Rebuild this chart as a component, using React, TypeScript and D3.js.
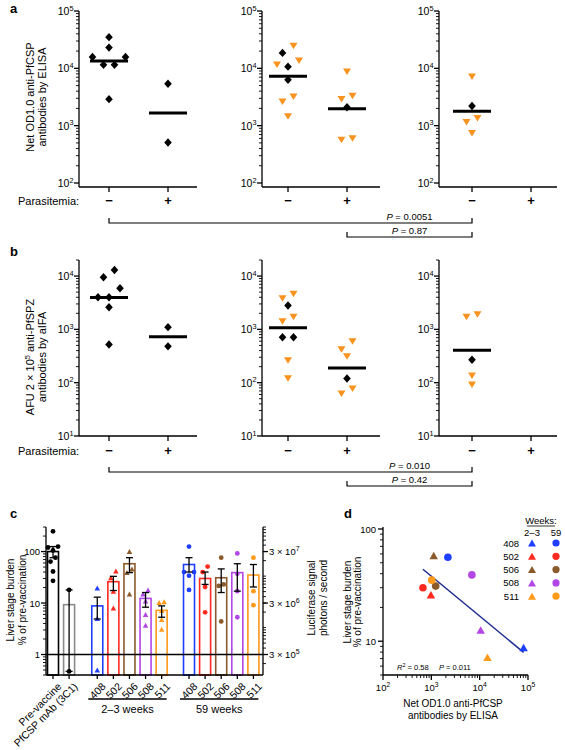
import React from "react";
import * as d3 from "d3";

const FONT = "'Liberation Sans', Arial, Helvetica, sans-serif";
const ORANGE = "#f7931e";
const COLORS: Record<string, string> = {
  "408": "#1f3fff",
  "502": "#ff2a1f",
  "506": "#8b5a2b",
  "508": "#b347e6",
  "511": "#ff9a1a",
};

// ---------------- Panel a : Net OD1.0 anti-PfCSP antibodies by ELISA ----------------
const parasitemia = ["−", "+"];
const a1MinusValues = [35000, 23000, 15800, 15800, 11500, 11500, 2900];
const a1MinusShapes = ["D", "D", "D", "D", "D", "D", "D"];
const a1PlusValues = [5400, 510];
const a1PlusShapes = ["D", "D"];
const a2MinusValues = [24500, 18600, 13500, 11500, 10700, 6300, 3200, 2600, 1450];
const a2MinusShapes = ["T", "D", "T", "T", "D", "D", "T", "T", "T"];
const a2PlusValues = [8700, 3300, 2900, 2100, 600, 560];
const a2PlusShapes = ["T", "T", "T", "D", "T", "T"];
const a3MinusValues = [7100, 2200, 1350, 1150, 740];
const a3MinusShapes = ["T", "D", "T", "T", "T"];
const a3PlusValues: number[] = [];
const a3PlusShapes: string[] = [];
const aPValues = ["0.0051", "0.87"];

// ---------------- Panel b : AFU anti-PfSPZ antibodies by aIFA ----------------
const b1MinusValues = [13000, 9500, 5900, 4000, 4000, 2600, 520];
const b1MinusShapes = ["D", "D", "D", "D", "D", "D", "D"];
const b1PlusValues = [1100, 480];
const b1PlusShapes = ["D", "D"];
const b2MinusValues = [4600, 3800, 2800, 1700, 1400, 710, 710, 260, 120];
const b2MinusShapes = ["T", "T", "D", "T", "T", "D", "D", "T", "T"];
const b2PlusValues = [590, 420, 310, 120, 77, 62];
const b2PlusShapes = ["T", "T", "T", "D", "T", "T"];
const b3MinusValues = [1900, 1700, 270, 135, 91];
const b3MinusShapes = ["T", "T", "D", "T", "T"];
const b3PlusValues: number[] = [];
const b3PlusShapes: string[] = [];
const bPValues = ["0.010", "0.42"];

// ---------------- Panel c : liver stage burden ----------------
const cLabels = ["Pre-vaccine", "PfCSP mAb (3C1)", "408", "502", "506", "508", "511", "408", "502", "506", "508", "511"];
const cGroups = ["pre", "mab", "early", "early", "early", "early", "early", "late", "late", "late", "late", "late"];
const cMeans = [100, 9.3, 8.8, 26, 58, 12.3, 7.2, 56, 30, 31, 39, 35];
const cErrLow = [76, 0.47, 4.9, 17.5, 39, 8.3, 5.3, 40, 23, 16, 17, 20.5];
const cErrHigh = [125, 18, 13, 33, 76, 16, 8.8, 76, 40, 46, 58, 56];
const cPoints = [
  [247, 125, 120, 105, 76, 64, 41, 27],
  [18, 0.47],
  [19.6, 5, 0.5],
  [42, 31, 17, 8],
  [100, 46, 39, 15],
  [18, 15, 11, 6, 3.7],
  [10.6, 10.2, 7.2, 4.8, 3.1],
  [125, 40, 40, 34, 18],
  [51, 40, 20.5, 6.6],
  [76, 23, 21.5, 4.4],
  [92, 37, 17, 5.3],
  [76, 17, 9.1],
];
const cGroupTitles = ["2–3 weeks", "59 weeks"];
const cLeftTicks = [1, 10, 100];
const cRightTicks = [3e5, 3e6, 3e7];
const cPhotonFactor = 3e5;

// ---------------- Panel d : correlation ----------------
const dMonkeys = ["408", "502", "506", "508", "511"];
const dEarlyElisa = [81000, 980, 1120, 10500, 14500];
const dEarlyBurden = [8.8, 26, 58, 12.6, 7.2];
const dLateElisa = [2200, 670, 1230, 6900, 1020];
const dLateBurden = [56, 30, 31, 39, 35];
const dR2 = "0.58";
const dP = "0.011";

// ---------------- helpers ----------------
function logTicks(min: number, max: number) {
  const major: number[] = [];
  const minor: number[] = [];
  for (let e = Math.floor(Math.log10(min)) - 1; e <= Math.ceil(Math.log10(max)); e++) {
    for (let m = 1; m <= 9; m++) {
      const v = m * Math.pow(10, e);
      if (v >= min * 0.999 && v <= max * 1.001) (m === 1 ? major : minor).push(v);
    }
  }
  return { major, minor };
}

function swarm(ys: number[], spacing: number, thresh: number): number[] {
  const idx = ys.map((_, i) => i).sort((a, b) => ys[a] - ys[b]);
  const rows: number[][] = [];
  let cur: number[] = [];
  let start = -Infinity;
  for (const i of idx) {
    if (cur.length && ys[i] - start < thresh) cur.push(i);
    else {
      if (cur.length) rows.push(cur);
      cur = [i];
      start = ys[i];
    }
  }
  if (cur.length) rows.push(cur);
  const off = new Array(ys.length).fill(0);
  for (const row of rows) {
    const n = row.length;
    const ordered = [...row].sort((a, b) => ys[b] - ys[a]);
    const slots: number[] = [];
    if (n % 2 === 1) {
      slots.push(0);
      for (let k = 1; slots.length < n; k++) {
        slots.push(-k);
        if (slots.length < n) slots.push(k);
      }
    } else {
      for (let k = 0.5; slots.length < n; k++) {
        slots.push(-k);
        if (slots.length < n) slots.push(k);
      }
    }
    ordered.forEach((i, j) => (off[i] = slots[j] * spacing));
  }
  return off;
}

const diamond = (cx: number, cy: number, w: number, h: number) =>
  `M${cx},${cy - h}L${cx + w},${cy}L${cx},${cy + h}L${cx - w},${cy}Z`;
const triDown = (cx: number, cy: number, w: number, h: number) =>
  `M${cx - w / 2},${cy - h / 2}L${cx + w / 2},${cy - h / 2}L${cx},${cy + h / 2}Z`;
const triUp = (cx: number, cy: number, w: number, h: number) =>
  `M${cx - w / 2},${cy + h / 2}L${cx + w / 2},${cy + h / 2}L${cx},${cy - h / 2}Z`;

function Pow10({ x, y, exp, anchor, size }: any) {
  return (
    <text x={x} y={y} textAnchor={anchor} fontSize={size}>
      10
      <tspan dy={-size * 0.42} fontSize={size * 0.7}>
        {exp}
      </tspan>
    </text>
  );
}

// ---------------- scatter panel (a / b) ----------------
type Group = { values: number[]; shapes: string[] };
type Sub = { axisX: number; tick0: number; minus: Group; plus: Group };

function ScatterPanel({ subs, domain, yRange, xAxisY, yLabel, brackets, pvals, parasY }: any) {
  const y = d3.scaleLog().domain(domain).range(yRange);
  const { major, minor } = logTicks(domain[0], domain[1]);
  const topPx = yRange[1];
  const xs = subs.map((s: Sub) =>
    d3.scalePoint<string>().domain(parasitemia).range([s.axisX + s.tick0, s.axisX + s.tick0 + 59])
  );
  const els: any[] = [];
  subs.forEach((s: Sub, si: number) => {
    const x = xs[si];
    els.push(
      <g key={`ax${si}`} stroke="#000" strokeWidth={1.3} fill="none">
        <line x1={s.axisX} x2={s.axisX} y1={topPx} y2={xAxisY} />
        <line x1={s.axisX} x2={s.axisX + 118} y1={xAxisY} y2={xAxisY} />
        {major.map((v) => (
          <line key={`M${v}`} x1={s.axisX - 5} x2={s.axisX} y1={y(v)} y2={y(v)} />
        ))}
        {minor.map((v) => (
          <line key={`m${v}`} x1={s.axisX - 3} x2={s.axisX} y1={y(v)} y2={y(v)} strokeWidth={0.9} />
        ))}
        {parasitemia.map((p) => (
          <line key={`t${p}`} x1={x(p)} x2={x(p)} y1={xAxisY} y2={xAxisY + 5} />
        ))}
      </g>
    );
    major.forEach((v) =>
      els.push(
        <Pow10 key={`lab${si}-${v}`} x={s.axisX - 5.5} y={y(v) + 4} exp={Math.round(Math.log10(v))} anchor="end" size={10.5} />
      )
    );
    parasitemia.forEach((p) =>
      els.push(
        <text key={`pl${si}${p}`} x={x(p)} y={parasY} textAnchor="middle" fontSize={13} fontWeight="bold">
          {p}
        </text>
      )
    );
    [s.minus, s.plus].forEach((g, gi) => {
      if (!g.values.length) return;
      const cx = x(parasitemia[gi])!;
      const ys = g.values.map((v) => y(v));
      const offs = swarm(ys, 11, 9);
      const gm = Math.pow(10, d3.mean(g.values, (v) => Math.log10(v))!);
      g.values.forEach((v, i) => {
        const px = cx + offs[i];
        const py = ys[i];
        els.push(
          g.shapes[i] === "D" ? (
            <path key={`p${si}-${gi}-${i}`} d={diamond(px, py, 3.8, 4.2)} fill="#000" />
          ) : (
            <path key={`p${si}-${gi}-${i}`} d={triDown(px, py, 8, 6.5)} fill={ORANGE} />
          )
        );
      });
      els.push(
        <line key={`gm${si}-${gi}`} x1={cx - 19} x2={cx + 19} y1={y(gm)} y2={y(gm)} stroke="#000" strokeWidth={3} />
      );
    });
  });
  // brackets
  const b0 = xs[0]("−")!, b2 = xs[2]("−")!, b1 = xs[1]("+")!;
  const pCenter = (b1 + b2) / 2;
  els.push(
    <g key="br" stroke="#000" strokeWidth={1.2} fill="none">
      <path d={`M${b0},${brackets[0] - 5}V${brackets[0]}H${b2}V${brackets[0] - 5}`} />
      <path d={`M${b1},${brackets[1] - 5}V${brackets[1]}H${b2}V${brackets[1] - 5}`} />
    </g>
  );
  pvals.forEach((pv: string, i: number) =>
    els.push(
      <text key={`pv${i}`} x={pCenter} y={brackets[i] - 3} textAnchor="middle" fontSize={9.5}>
        <tspan fontStyle="italic">P</tspan> = {pv}
      </text>
    )
  );
  els.push(
    <text key="parlab" x={18} y={parasY} fontSize={11}>
      Parasitemia:
    </text>
  );
  els.push(
    <g key="ylab" fontSize={11} textAnchor="middle">
      <text transform={`translate(33.5,${yLabel.cy}) rotate(-90)`}>{yLabel.l1}</text>
      <text transform={`translate(45.5,${yLabel.cy}) rotate(-90)`}>{yLabel.l2}</text>
    </g>
  );
  return <g>{els}</g>;
}

// ---------------- panel c ----------------
function PanelC() {
  const left = 46, right = 263, bottomY = 675, topY = 527;
  const y = d3.scaleLog().domain([0.4, 300]).range([bottomY, topY]);
  const yr = d3.scaleLog().domain([0.4 * cPhotonFactor, 300 * cPhotonFactor]).range([bottomY, topY]);
  const slot = cLabels.map((_, i) => i + (i >= 2 ? 0.75 : 0) + (i >= 7 ? 0.7 : 0));
  const x = d3.scaleLinear().domain([0, slot[slot.length - 1]]).range([53, 253.4]);
  const lt = logTicks(0.4, 300);
  const rt = logTicks(0.4 * cPhotonFactor, 300 * cPhotonFactor);
  const bw = 11;
  const colorOf = (i: number) =>
    cGroups[i] === "pre" ? "#000" : cGroups[i] === "mab" ? "#8a8a8a" : COLORS[cLabels[i]];
  const early = cLabels.map((_, i) => i).filter((i) => cGroups[i] === "early");
  const late = cLabels.map((_, i) => i).filter((i) => cGroups[i] === "late");
  return (
    <g>
      {cLabels.map((l, i) => {
        const cx = x(slot[i]);
        return (
          <rect
            key={`bar${i}`}
            x={cx - bw / 2}
            y={y(cMeans[i])}
            width={bw}
            height={bottomY - y(cMeans[i])}
            fill="#fff"
            stroke={colorOf(i)}
            strokeWidth={1.6}
          />
        );
      })}
      {cPoints.map((pts, i) => {
        const cx = x(slot[i]);
        const ys = pts.map((v) => y(v));
        const offs = swarm(ys, 5, 8);
        const col = cGroups[i] === "pre" || cGroups[i] === "mab" ? "#000" : colorOf(i);
        return pts.map((v, j) =>
          cGroups[i] === "early" ? (
            <path key={`cp${i}-${j}`} d={triUp(cx + offs[j], ys[j], 5.5, 5)} fill={col} />
          ) : (
            <circle key={`cp${i}-${j}`} cx={cx + offs[j]} cy={ys[j]} r={2.4} fill={col} />
          )
        );
      })}
      {cLabels.map((l, i) => {
        const cx = x(slot[i]);
        return (
          <g key={`eb${i}`} stroke="#000" strokeWidth={1.3}>
            <line x1={cx} x2={cx} y1={y(cErrLow[i])} y2={y(cErrHigh[i])} />
            <line x1={cx - 3.5} x2={cx + 3.5} y1={y(cErrHigh[i])} y2={y(cErrHigh[i])} />
            <line x1={cx - 3.5} x2={cx + 3.5} y1={y(cErrLow[i])} y2={y(cErrLow[i])} />
          </g>
        );
      })}
      <g stroke="#000" strokeWidth={1.3} fill="none">
        <line x1={left} x2={left} y1={topY} y2={bottomY} />
        <line x1={right} x2={right} y1={topY} y2={bottomY} />
        <line x1={left} x2={right} y1={bottomY} y2={bottomY} />
        <line x1={left} x2={right} y1={y(1)} y2={y(1)} strokeWidth={1.6} />
        {lt.major.map((v) => (
          <line key={`lM${v}`} x1={left - 5} x2={left} y1={y(v)} y2={y(v)} />
        ))}
        {lt.minor.map((v) => (
          <line key={`lm${v}`} x1={left - 3} x2={left} y1={y(v)} y2={y(v)} strokeWidth={0.9} />
        ))}
        {rt.major.concat(rt.minor).map((v) => (
          <line key={`rm${v}`} x1={right} x2={right + 3} y1={yr(v)} y2={yr(v)} strokeWidth={0.9} />
        ))}
        {cRightTicks.map((v) => (
          <line key={`rM${v}`} x1={right} x2={right + 5} y1={yr(v)} y2={yr(v)} />
        ))}
        {cLabels.map((l, i) => (
          <line key={`xt${i}`} x1={x(slot[i])} x2={x(slot[i])} y1={bottomY} y2={bottomY + 4} />
        ))}
        <line x1={x(slot[early[0]]) - 9} x2={x(slot[early[early.length - 1]]) + 5} y1={699} y2={699} />
        <line x1={x(slot[late[0]]) - 9} x2={x(slot[late[late.length - 1]]) + 5} y1={699} y2={699} />
      </g>
      {cLeftTicks.map((v) => (
        <text key={`ltl${v}`} x={left - 6} y={y(v) + 3.5} textAnchor="end" fontSize={9.5}>
          {v}
        </text>
      ))}
      {cRightTicks.map((v) => {
        const e = Math.floor(Math.log10(v));
        const m = Math.round(v / Math.pow(10, e));
        return (
          <text key={`rtl${v}`} x={right + 6} y={yr(v) + 3.5} fontSize={9.5}>
            {m} × 10
            <tspan dy={-4} fontSize={7}>
              {e}
            </tspan>
          </text>
        );
      })}
      {cLabels.map((l, i) => (
        <text
          key={`xl${i}`}
          transform={`translate(${x(slot[i]) + 4},${682}) rotate(-45)`}
          textAnchor="end"
          dy="0.7em"
          fontSize={10.5}
        >
          {l}
        </text>
      ))}
      <text x={(x(slot[early[0]]) + x(slot[early[early.length - 1]])) / 2 - 2} y={713} textAnchor="middle" fontSize={11}>
        {cGroupTitles[0]}
      </text>
      <text x={(x(slot[late[0]]) + x(slot[late[late.length - 1]])) / 2 - 2} y={713} textAnchor="middle" fontSize={11}>
        {cGroupTitles[1]}
      </text>
      <g fontSize={10} textAnchor="middle">
        <text transform={`translate(14,600) rotate(-90)`}>Liver stage burden</text>
        <text transform={`translate(26,600) rotate(-90)`}>% of pre-vaccination</text>
        <text transform={`translate(315,598) rotate(-90)`}>Luciferase signal</text>
        <text transform={`translate(327,598) rotate(-90)`}>photons / second</text>
      </g>
    </g>
  );
}

// ---------------- panel d ----------------
function PanelD() {
  const left = 383, right = 528, bottomY = 675, topY = 529;
  const x = d3.scaleLog().domain([100, 1e5]).range([left, right]);
  const y = d3.scaleLog().domain([5, 100]).range([bottomY, topY]);
  const xt = logTicks(100, 1e5);
  const yt = logTicks(5, 100);
  const allX = dEarlyElisa.concat(dLateElisa);
  const allY = dEarlyBurden.concat(dLateBurden);
  const lx = allX.map(Math.log10), ly = allY.map(Math.log10);
  const mx = d3.mean(lx)!, my = d3.mean(ly)!;
  const sxy = d3.sum(lx, (v, i) => (v - mx) * (ly[i] - my));
  const sxx = d3.sum(lx, (v) => (v - mx) * (v - mx));
  const slope = sxy / sxx;
  const fit = (v: number) => Math.pow(10, my + slope * (Math.log10(v) - mx));
  const [xmin, xmax] = d3.extent(allX) as [number, number];
  const rowY = (i: number) => 543 + i * 13.3;
  return (
    <g>
      <g stroke="#000" strokeWidth={1.3} fill="none">
        <line x1={left} x2={left} y1={topY - 2} y2={bottomY} />
        <line x1={left} x2={right} y1={bottomY} y2={bottomY} />
        {yt.major.map((v) => (
          <line key={`yM${v}`} x1={left - 5} x2={left} y1={y(v)} y2={y(v)} />
        ))}
        {yt.minor.map((v) => (
          <line key={`ym${v}`} x1={left - 3} x2={left} y1={y(v)} y2={y(v)} strokeWidth={0.9} />
        ))}
        {xt.major.map((v) => (
          <line key={`xM${v}`} x1={x(v)} x2={x(v)} y1={bottomY} y2={bottomY + 5} />
        ))}
        {xt.minor.map((v) => (
          <line key={`xm${v}`} x1={x(v)} x2={x(v)} y1={bottomY} y2={bottomY + 3} strokeWidth={0.9} />
        ))}
      </g>
      {yt.major.map((v) => (
        <text key={`yl${v}`} x={left - 7} y={y(v) + 3.5} textAnchor="end" fontSize={9.5}>
          {v}
        </text>
      ))}
      {xt.major.map((v) => (
        <Pow10 key={`xl${v}`} x={x(v)} y={bottomY + 16} exp={Math.round(Math.log10(v))} anchor="middle" size={9.5} />
      ))}
      <line x1={x(xmin)} x2={x(xmax)} y1={y(fit(xmin))} y2={y(fit(xmax))} stroke="#1b2a8f" strokeWidth={1.5} />
      {dMonkeys.map((m, i) => (
        <circle key={`dl${i}`} cx={x(dLateElisa[i])} cy={y(dLateBurden[i])} r={3.8} fill={COLORS[m]} />
      ))}
      {dMonkeys.map((m, i) => (
        <path key={`de${i}`} d={triUp(x(dEarlyElisa[i]), y(dEarlyBurden[i]), 8.5, 7.5)} fill={COLORS[m]} />
      ))}
      <text x={397} y={670} fontSize={7.5}>
        <tspan fontStyle="italic">R</tspan>
        <tspan dy={-3} fontSize={5.5}>2</tspan>
        <tspan dy={3}> = {dR2}</tspan>
      </text>
      <text x={439} y={670} fontSize={7.5}>
        <tspan fontStyle="italic">P</tspan> = {dP}
      </text>
      <text x={541} y={524} textAnchor="middle" fontSize={9.5}>
        Weeks:
      </text>
      <line x1={527} x2={555} y1={526} y2={526} stroke="#000" strokeWidth={0.8} />
      <text x={532} y={536} textAnchor="middle" fontSize={9.5}>
        2–3
      </text>
      <text x={556} y={536} textAnchor="middle" fontSize={9.5}>
        59
      </text>
      {dMonkeys.map((m, i) => (
        <g key={`lg${i}`}>
          <text x={519} y={rowY(i) + 3.5} textAnchor="end" fontSize={9.5}>
            {m}
          </text>
          <path d={triUp(532, rowY(i), 8, 7)} fill={COLORS[m]} />
          <circle cx={556} cy={rowY(i)} r={3.6} fill={COLORS[m]} />
        </g>
      ))}
      <g fontSize={10} textAnchor="middle">
        <text transform={`translate(350.5,602) rotate(-90)`}>Liver stage burden</text>
        <text transform={`translate(361,602) rotate(-90)`}>% of pre-vaccination</text>
        <text x={453} y={707}>Net OD1.0 anti-PfCSP</text>
        <text x={453} y={719}>antibodies by ELISA</text>
      </g>
    </g>
  );
}

const layoutAB = [
  { axisX: 79, tick0: 30 },
  { axisX: 262, tick0: 26 },
  { axisX: 439, tick0: 33 },
];

export default function App() {
  const aSubs: Sub[] = [
    { ...layoutAB[0], minus: { values: a1MinusValues, shapes: a1MinusShapes }, plus: { values: a1PlusValues, shapes: a1PlusShapes } },
    { ...layoutAB[1], minus: { values: a2MinusValues, shapes: a2MinusShapes }, plus: { values: a2PlusValues, shapes: a2PlusShapes } },
    { ...layoutAB[2], minus: { values: a3MinusValues, shapes: a3MinusShapes }, plus: { values: a3PlusValues, shapes: a3PlusShapes } },
  ];
  const bSubs: Sub[] = [
    { ...layoutAB[0], minus: { values: b1MinusValues, shapes: b1MinusShapes }, plus: { values: b1PlusValues, shapes: b1PlusShapes } },
    { ...layoutAB[1], minus: { values: b2MinusValues, shapes: b2MinusShapes }, plus: { values: b2PlusValues, shapes: b2PlusShapes } },
    { ...layoutAB[2], minus: { values: b3MinusValues, shapes: b3MinusShapes }, plus: { values: b3PlusValues, shapes: b3PlusShapes } },
  ];
  return (
    <svg
      width={565}
      height={750}
      style={{ position: "absolute", left: 0, top: 0, background: "#fff" }}
      fontFamily={FONT}
    >
      <rect width={565} height={750} fill="#fff" />
      <ScatterPanel
        subs={aSubs}
        domain={[100, 1e5]}
        yRange={[183, 11]}
        xAxisY={187}
        yLabel={{ l1: "Net OD1.0 anti-PfCSP", l2: "antibodies by ELISA", cy: 97 }}
        brackets={[223, 237]}
        pvals={aPValues}
        parasY={205}
      />
      <ScatterPanel
        subs={bSubs}
        domain={[10, 2e4]}
        yRange={[436, 260]}
        xAxisY={436}
        yLabel={{
          l1: (
            <>
              AFU 2 × 10<tspan dy={-4} fontSize={7.5}>5</tspan>
              <tspan dy={4}> anti-PfSPZ</tspan>
            </>
          ),
          l2: "antibodies by aIFA",
          cy: 357,
        }}
        brackets={[472, 486]}
        pvals={bPValues}
        parasY={455}
      />
      <PanelC />
      <PanelD />
      <g fontWeight="bold" fontSize={13}>
        <text x={10} y={13}>a</text>
        <text x={10} y={256}>b</text>
        <text x={10} y={518}>c</text>
        <text x={344} y={518}>d</text>
      </g>
    </svg>
  );
}
